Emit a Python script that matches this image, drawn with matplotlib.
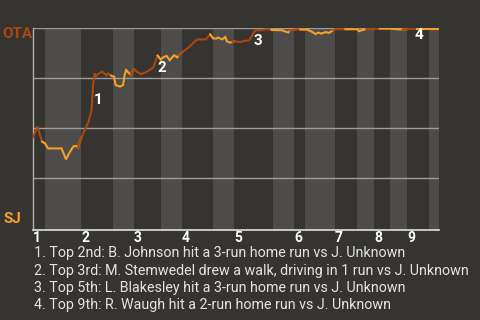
import numpy as np
import matplotlib
matplotlib.use('Agg')
import matplotlib.pyplot as plt

plt.rcParams['font.family'] = ['Roboto', 'DejaVu Sans']

# win probability for OTA (%), x = pitch count through the game
pitch = [0, 3, 6, 8, 10, 15, 19, 22, 24, 26, 27, 29, 30, 32, 36, 37, 39, 40, 41, 42,
         44, 46, 49, 50, 52, 54, 55, 58, 60, 61, 62, 65, 67, 69, 72, 76, 80, 83, 85,
         87, 89, 91, 94, 96, 97, 99, 104, 108, 110, 115, 118, 120, 122, 123, 126, 128,
         129, 131, 133, 134, 138, 140, 144, 146, 148, 152, 156, 159, 160, 166, 168, 170,
         171, 174, 178, 181, 182, 186, 188, 190, 192, 195, 197, 200, 201, 208, 216, 217,
         219, 222, 227, 231, 238, 242, 246, 249, 256, 264, 267, 270]
ota_wp = [45.5, 50.7, 43.2, 42.3, 39.8, 39.8, 39.8, 34.3, 37.3, 39.8, 40.8, 41.0, 40.3,
          44.8, 51.5, 53.2, 59.0, 71.5, 77.3, 76.0, 77.3, 78.2, 76.3, 77.3, 76.2, 75.7,
          71.5, 70.7, 71.5, 76.5, 79.0, 76.5, 79.5, 78.2, 76.9, 78.2, 80.2, 86.2, 84.2,
          85.5, 86.0, 83.9, 86.4, 85.3, 86.4, 87.7, 90.5, 93.5, 94.3, 94.3, 96.8, 94.8,
          94.7, 95.3, 94.3, 95.5, 93.4, 92.7, 93.0, 93.3, 93.0, 93.4, 93.9, 96.4, 98.9,
          98.9, 99.4, 99.0, 99.0, 98.9, 98.2, 97.8, 98.8, 99.3, 99.3, 99.2, 99.4, 98.0,
          97.0, 97.7, 97.2, 98.0, 97.5, 98.9, 99.4, 99.4, 99.4, 98.4, 98.9, 99.5, 99.5,
          99.7, 99.7, 99.4, 99.2, 99.4, 99.7, 99.7, 99.7, 99.7]

# pitch count where each half inning starts (last value = end of game)
half_starts = [0, 8, 32, 53, 67, 85, 99, 120, 134, 160, 174, 181, 201, 216, 227, 238,
               249, 264, 270]
innings = ['1', '2', '3', '4', '5', '6', '7', '8', '9']

# key plays: label, pitch, label height
events = ['1', '2', '3', '4']
event_x = [43, 86, 150, 257]
event_y = [64, 80, 93.5, 96.5]
notes = [
    "1. Top 2nd: B. Johnson hit a 3-run home run vs J. Unknown",
    "2. Top 3rd: M. Stemwedel drew a walk, driving in 1 run vs J. Unknown",
    "3. Top 5th: L. Blakesley hit a 3-run home run vs J. Unknown",
    "4. Top 9th: R. Waugh hit a 2-run home run vs J. Unknown",
]

bg = '#363431'
band = '#4d4c4a'
away_col = '#ad460c'
home_col = '#f5a026'

fig = plt.figure(figsize=(4.8, 3.2), dpi=100, facecolor=bg)
ax = fig.add_axes([33 / 480, 1 - 230 / 320, 405.5 / 480, 202 / 320])
ax.set_facecolor(bg)

# shade the bottom halves
for i in range(len(half_starts) - 1):
    if i % 2 == 1:
        ax.axvspan(half_starts[i], half_starts[i + 1], color=band, lw=0, zorder=0)

for g in [25, 50, 75, 100]:
    ax.axhline(g, color='#9c9c9c', lw=1, zorder=1)

x = np.array(pitch)
y = np.array(ota_wp)
for i in range(len(half_starts) - 1):
    lo, hi = half_starts[i], half_starts[i + 1]
    idx = np.where((x >= lo) & (x <= hi))[0]
    if idx[0] > 0:
        idx = np.insert(idx, 0, idx[0] - 1)
    col = away_col if i % 2 == 0 else home_col
    ax.plot(x[idx], y[idx], color=col, lw=1.5, zorder=3, solid_joinstyle='miter')

for lab, ex, ey in zip(events, event_x, event_y):
    ax.text(ex, ey, lab, color='white', fontsize=11, fontweight='bold',
            ha='center', va='center', zorder=4)

ax.set_xlim(0, half_starts[-1])
ax.set_ylim(-1, 100)
ax.set_yticks([])
ax.set_xticks([])
for k, lab in enumerate(innings):
    ax.text(half_starts[2 * k], -1.5, lab, color='white', fontsize=10,
            fontweight='bold', ha='left', va='top')

for s in ['top', 'right']:
    ax.spines[s].set_visible(False)
ax.spines['left'].set_color('#b0b0b0')
ax.spines['bottom'].set_color('#e0e0e0')
ax.spines['left'].set_linewidth(1)
ax.spines['bottom'].set_linewidth(1.2)

fig.text(2 / 480, 1 - 27 / 320, 'OTA', color=away_col, fontsize=11,
         fontweight='bold', ha='left', va='top')
fig.text(3 / 480, 1 - 226 / 320, 'SJ', color=home_col, fontsize=11,
         fontweight='bold', ha='left', va='bottom')

for k, t in enumerate(notes):
    fig.text(34 / 480, 1 - (253 + 17.5 * k) / 320, t, color='#e4e4e4',
             fontsize=10.3, ha='left', va='center')

fig.savefig('out.png', dpi=100, facecolor=bg)
